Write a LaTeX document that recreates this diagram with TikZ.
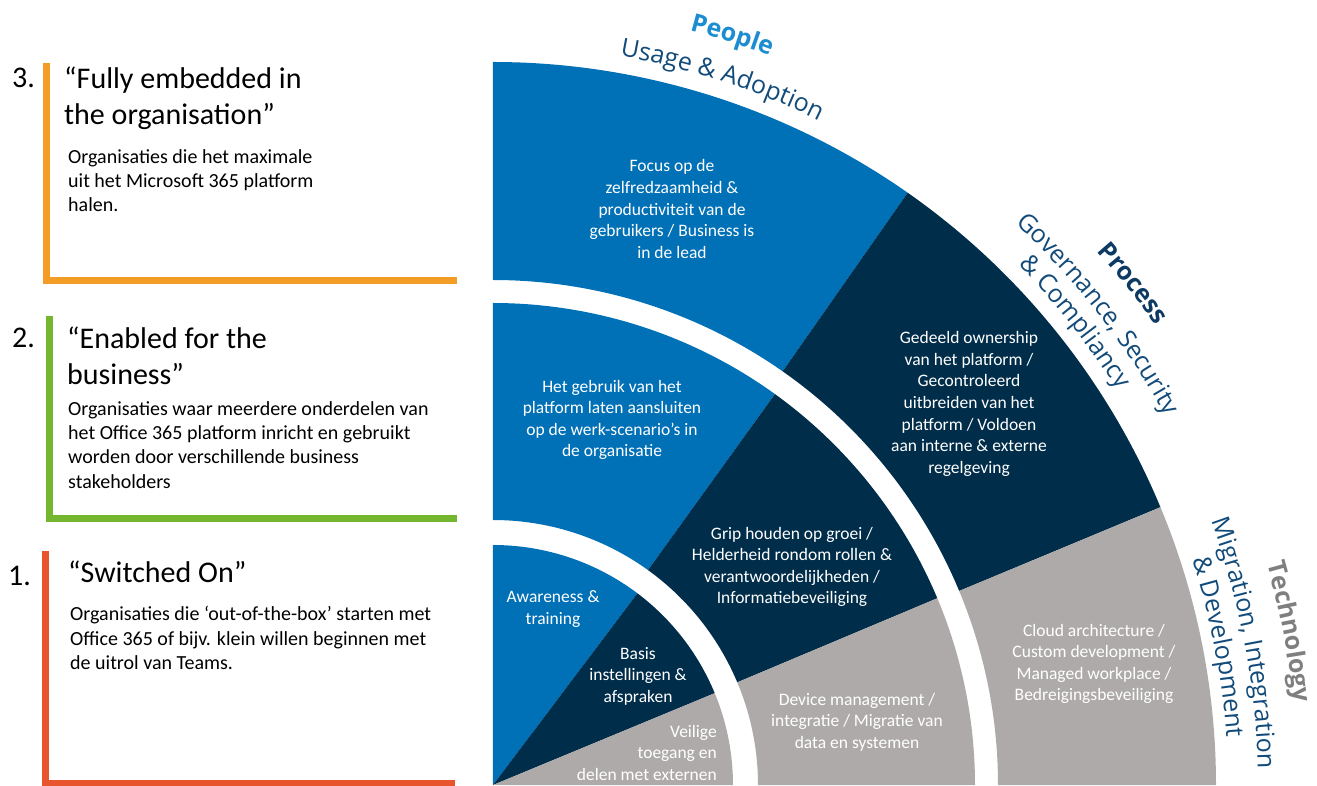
\documentclass[tikz,border=0pt]{standalone}
\usepackage{fontspec}
\setmainfont{Carlito}
\newfontfamily\labelfont{Open Sans}
\usetikzlibrary{decorations.text}

\definecolor{fanblue}{HTML}{0070B7}
\definecolor{fannavy}{HTML}{002D4A}
\definecolor{fangray}{HTML}{AEAAAA}
\definecolor{peopleblue}{HTML}{1B8DD0}
\definecolor{labelblue}{HTML}{124B7A}
\definecolor{processblue}{HTML}{0D3A63}
\definecolor{techgray}{HTML}{7F7F7F}
\definecolor{lineorange}{HTML}{F39C26}
\definecolor{linegreen}{HTML}{74B72E}
\definecolor{linered}{HTML}{E8542C}

\begin{document}
\begin{tikzpicture}[x=1pt,y=1pt]
\tikzstyle{fantext}=[text=white, align=center, inner sep=0pt, font=\fontsize{17.5}{21.6}\selectfont]
\tikzstyle{levelnum}=[anchor=base west, inner sep=0pt, font=\fontsize{30}{36}\selectfont]
\tikzstyle{leveltitle}=[anchor=north west, align=left, inner sep=0pt, font=\fontsize{30}{36}\selectfont]
\tikzstyle{leveltext}=[anchor=north west, align=left, inner sep=0pt, font=\fontsize{20}{24.4}\selectfont]
\tikzstyle{levelline}=[line width=7pt]

\useasboundingbox (-493,0) rectangle (824,785);
\clip (-493,0) rectangle (824,785);

% inner ring
\fill[fanblue] (0,0) -- (90:240) arc (90:53:240) -- cycle;
\fill[fannavy] (0,0) -- (53:240) arc (53:22.5:240) -- cycle;
\fill[fangray] (0,0) -- (22.5:240) arc (22.5:0:240) -- cycle;

% middle ring
\fill[fanblue] (90:265) arc (90:54.2:265) -- (54.2:482) arc (54.2:90:482) -- cycle;
\fill[fannavy] (54.2:265) arc (54.2:22.8:265) -- (22.8:482) arc (22.8:54.2:482) -- cycle;
\fill[fangray] (22.8:265) arc (22.8:0:265) -- (0:482) arc (0:22.8:482) -- cycle;

% outer ring
\fill[fanblue] (90:505) arc (90:55:505) -- (55:723) arc (55:90:723) -- cycle;
\fill[fannavy] (55:505) arc (55:22.6:505) -- (22.6:723) arc (22.6:55:723) -- cycle;
\fill[fangray] (22.6:505) arc (22.6:0:505) -- (0:723) arc (0:22.6:723) -- cycle;

\coordinate (focus) at (179,576);
\coordinate (gebruik) at (119,365);
\coordinate (gedeeld) at (476,381);
\coordinate (grip) at (299,218);
\coordinate (awareness) at (60,176);
\coordinate (basis) at (145,109);
\coordinate (veilig) at (224,60);
\coordinate (device) at (364,63);
\coordinate (cloud) at (601,121);

\node[fantext] (focus) at (focus) {Focus op de\\zelfredzaamheid \&\\productiviteit van de\\gebruikers / Business is\\in de lead};
\node[fantext] (gebruik) at (gebruik) {Het gebruik van het\\platform laten aansluiten\\op de werk-scenario’s in\\de organisatie};
\node[fantext] (gedeeld) at (gedeeld) {Gedeeld ownership\\van het platform /\\Gecontroleerd\\uitbreiden van het\\platform / Voldoen\\aan interne \& externe\\regelgeving};
\node[fantext] (grip) at (grip) {Grip houden op groei /\\Helderheid rondom rollen \&\\verantwoordelijkheden /\\Informatiebeveiliging};
\node[fantext] (awareness) at (awareness) {Awareness \&\\training};
\node[fantext] (basis) at (basis) {Basis\\instellingen \&\\afspraken};
\node[fantext, anchor=north east, align=right] (veilig) at (veilig) {Veilige\\toegang en\\delen met externen};
\node[fantext] (device) at (device) {Device management /\\integratie / Migratie van\\data en systemen};
\node[fantext] (cloud) at (cloud) {Cloud architecture /\\Custom development /\\Managed workplace /\\Bedreigingsbeveiliging};

% labels round the fan
\path[decorate, decoration={text along path, text align=center, text={|\labelfont\fontsize{25}{30}\selectfont\bfseries\color{peopleblue}|People}}] (92.3:780) arc (92.3:52.3:780);
\path[decorate, decoration={text along path, text align=center, text={|\labelfont\fontsize{25}{30}\selectfont\color{labelblue}|Usage {\&} Adoption}}] (92:740) arc (92:52:740);

\path[decorate, decoration={text along path, text align=center, text={|\labelfont\fontsize{25}{30}\selectfont\bfseries\color{processblue}|Process}}] (58.1:806) arc (58.1:18.1:806);
\path[decorate, decoration={text along path, text align=center, text={|\labelfont\fontsize{25}{30}\selectfont\color{labelblue}|Governance, Security}}] (57.9:767) arc (57.9:17.9:767);
\path[decorate, decoration={text along path, text align=center, text={|\labelfont\fontsize{25}{30}\selectfont\color{labelblue}|{\&} Compliancy}}] (58.5:739) arc (58.5:18.5:739);

\path[decorate, decoration={text along path, text align=center, text={|\labelfont\fontsize{25}{30}\selectfont\bfseries\color{techgray}|Technology}}] (30.9:805) arc (30.9:-9.1:805);
\path[decorate, decoration={text along path, text align=center, text={|\labelfont\fontsize{25}{30}\selectfont\color{labelblue}|Migration, Integration}}] (30.7:765) arc (30.7:-9.3:765);
\path[decorate, decoration={text along path, text align=center, text={|\labelfont\fontsize{25}{30}\selectfont\color{labelblue}|{\&} Development}}] (30.8:735) arc (30.8:-9.2:735);

% levels on the left
\coordinate (top3) at (-446.5,722);
\coordinate (end3) at (-36,504);
\coordinate (top2) at (-443.5,469);
\coordinate (end2) at (-36,266);
\coordinate (top1) at (-447,234);
\coordinate (end1) at (-38,2);

\draw[levelline, lineorange] (top3) |- (end3);
\draw[levelline, linegreen] (top2) |- (end2);
\draw[levelline, linered] (top1) |- (end1);

\node[levelnum] (num3) at (-481,697) {3.};
\node[leveltitle] (title3) at (-429,718) {“Fully embedded in\\the organisation”};
\node[leveltext] (text3) at (-425,636) {Organisaties die het maximale\\uit het Microsoft 365 platform\\halen.};

\node[levelnum] (num2) at (-481,437) {2.};
\node[leveltitle] (title2) at (-426,458) {“Enabled for the\\business”};
\node[leveltext] (text2) at (-425,384) {Organisaties waar meerdere onderdelen van\\het Office 365 platform inricht en gebruikt\\worden door verschillende business\\stakeholders};

\node[levelnum] (num1) at (-485,200) {1.};
\node[leveltitle] (title1) at (-425,224) {“Switched On”};
\node[leveltext] (text1) at (-423,179) {Organisaties die ‘out-of-the-box’ starten met\\Office 365 of bijv. klein willen beginnen met\\de uitrol van Teams.};

\end{tikzpicture}
\end{document}
